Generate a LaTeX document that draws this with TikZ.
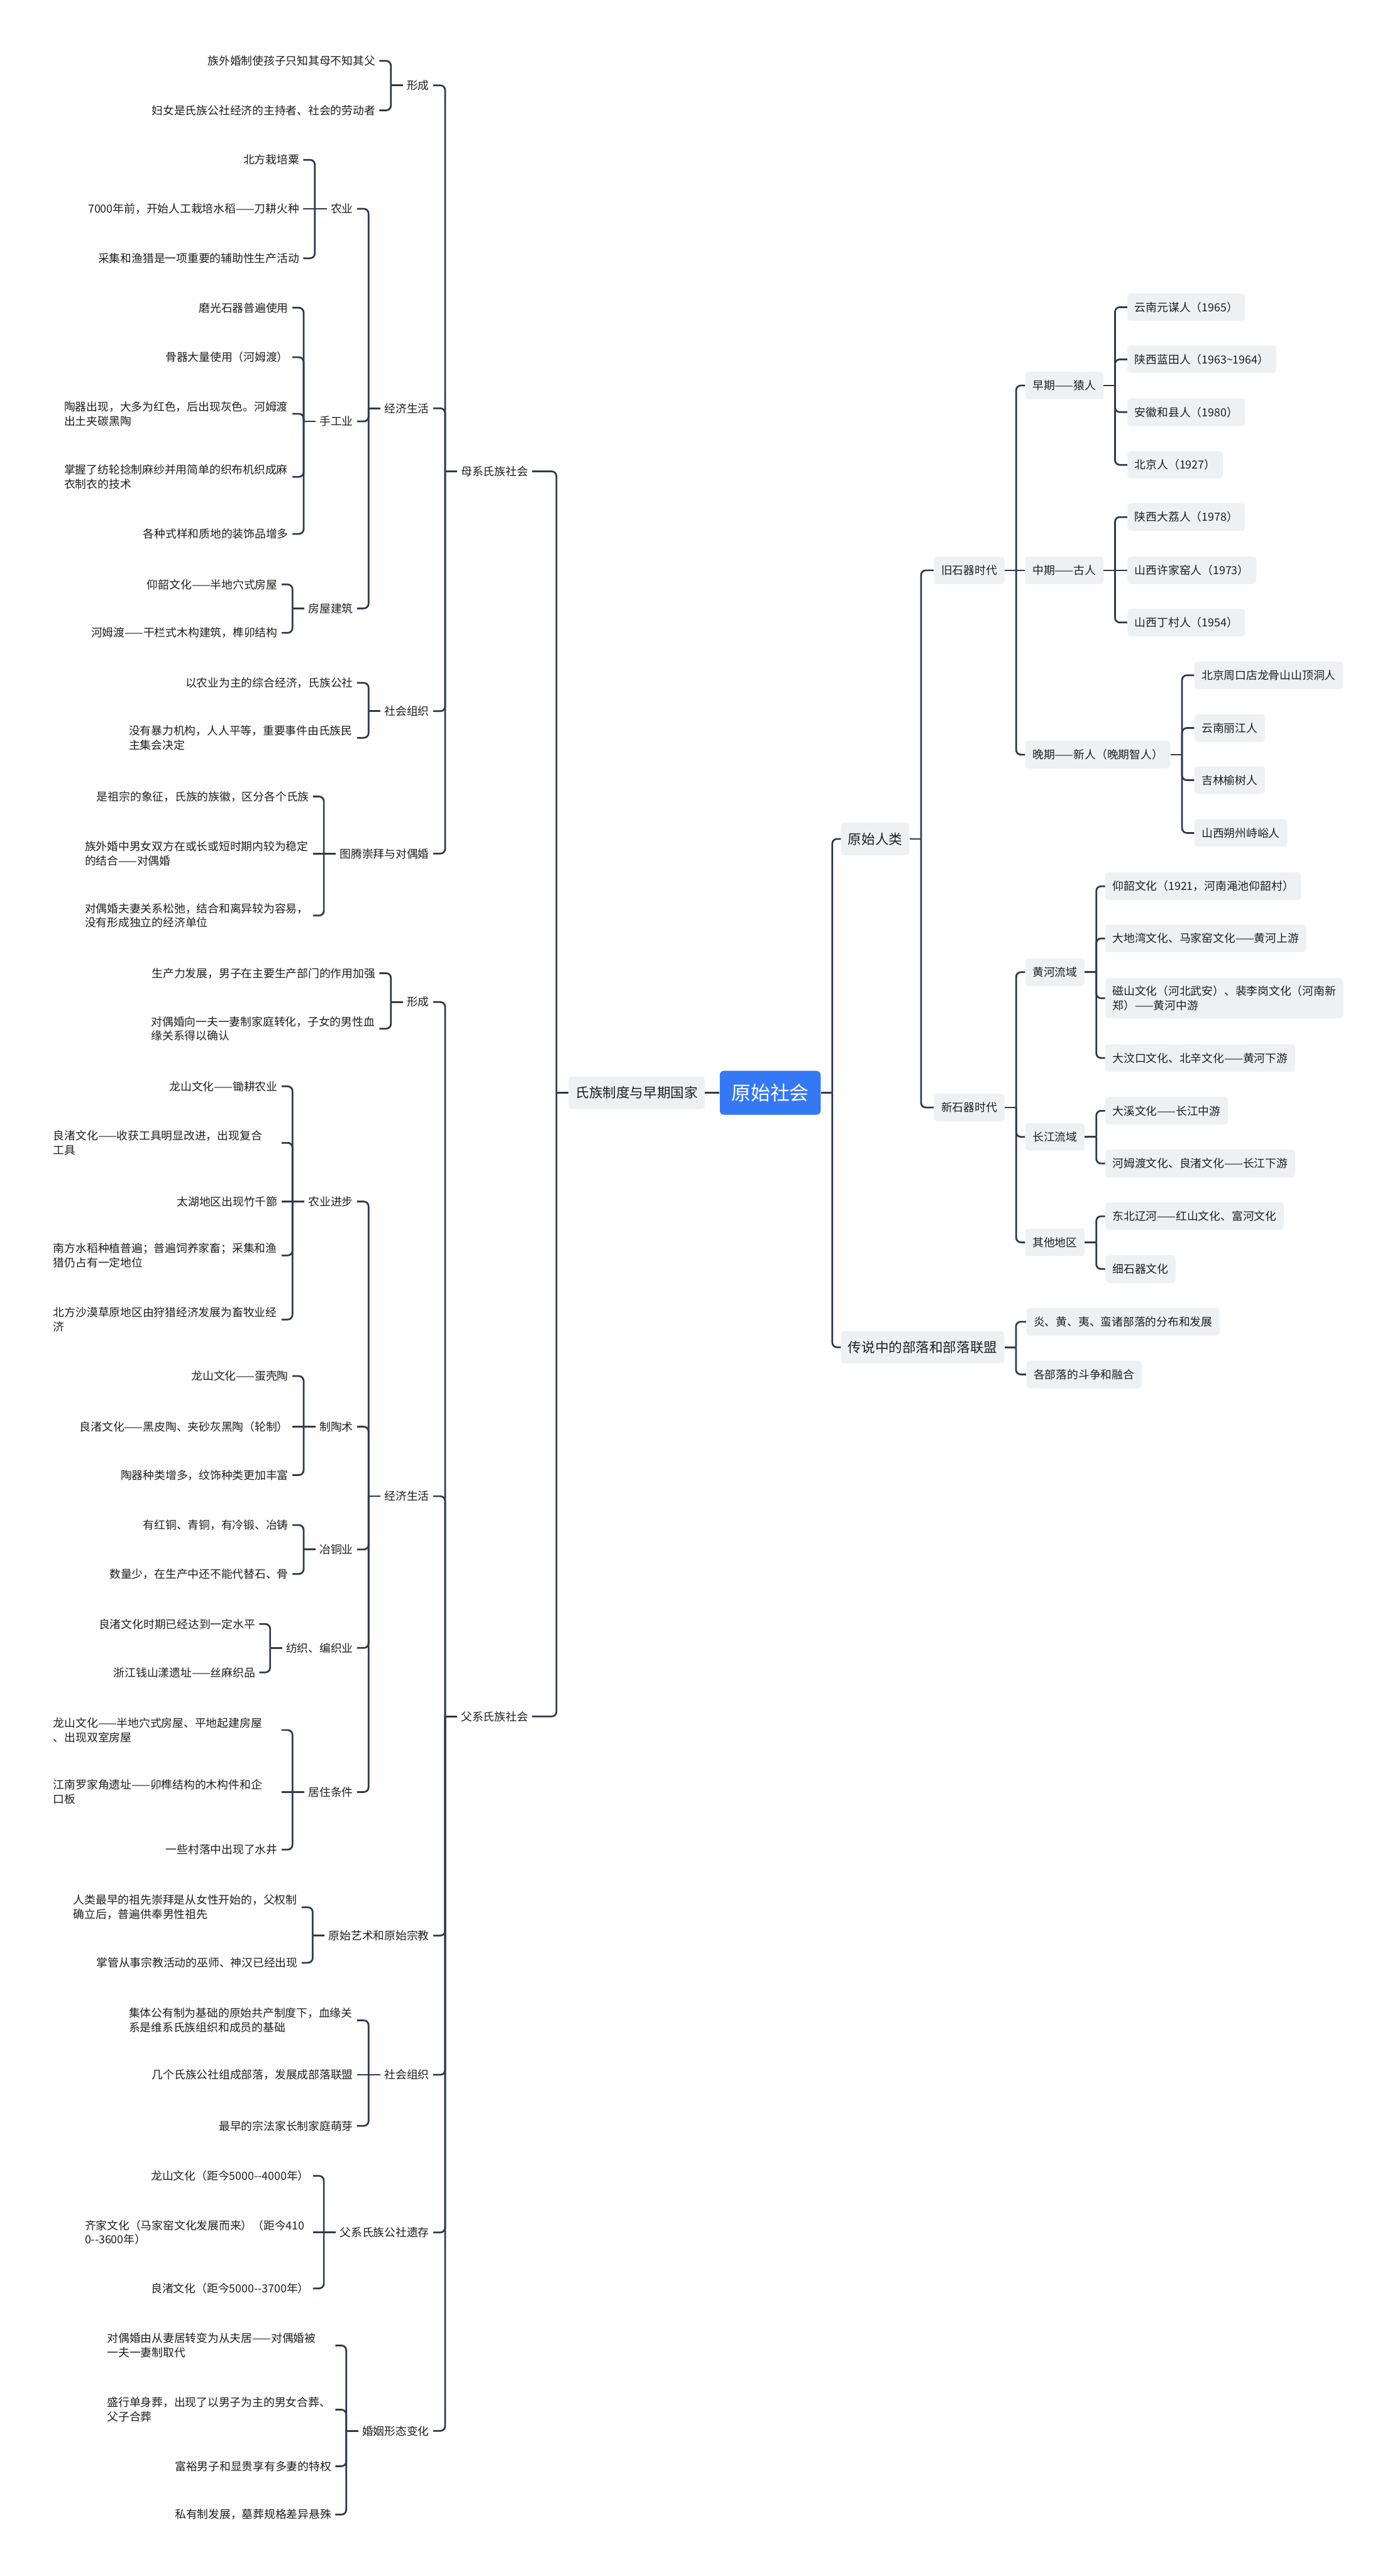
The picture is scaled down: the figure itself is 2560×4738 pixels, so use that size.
\documentclass[tikz,border=0pt]{standalone}
\usepackage{fontspec}
\setmainfont{Noto Sans CJK SC}
\definecolor{linecol}{HTML}{2D3A4C}
\definecolor{boxgray}{HTML}{EEF1F4}
\definecolor{rootblue}{HTML}{3478F6}
\definecolor{textcol}{HTML}{1E1E1E}
\newcommand{\leaffont}{\fontsize{11.7}{15}\selectfont}
\newcommand{\lvlfont}{\fontsize{14.2}{17}\selectfont}
\newcommand{\rootfont}{\fontsize{20.3}{24}\selectfont}
\tikzset{
  link/.style={draw=linecol, line width=1.8pt, rounded corners=5pt},
  leaf/.style={font=\leaffont, text=textcol, inner xsep=0.14cm, inner ysep=0.08cm, align=left},
  wrap/.style={leaf, text width=8.25cm},
  topic/.style={fill=boxgray, rounded corners=0.12cm, font=\leaffont, text=textcol, inner xsep=0.27cm, inner ysep=8pt, minimum height=1.02cm, align=left},
  main/.style={topic, font=\lvlfont, inner xsep=0.26cm, minimum height=1.2cm},
  rootbox/.style={fill=rootblue, rounded corners=0.16cm, font=\rootfont, text=white, inner xsep=0.43cm, minimum height=1.62cm}
}
\begin{document}
\begin{tikzpicture}[x=0.02cm,y=-0.02cm]
  \fill[white] (0,0) rectangle (2560,4738);
  \useasboundingbox (0,0) rectangle (2560,4738);

  \node[rootbox] (root) at (1417,2010) {原始社会};
  \node[main, anchor=east] (clan) at (1297,2010) {氏族制度与早期国家};
  \node[leaf, anchor=east] (matri) at (979,867) {母系氏族社会};
  \node[leaf, anchor=east] (patri) at (979,3157) {父系氏族社会};

  \node[leaf, anchor=east] (mform) at (797,157) {形成};
  \node[leaf, anchor=east] (mform1) at (698,112) {族外婚制使孩子只知其母不知其父};
  \node[leaf, anchor=east] (mform2) at (698,203) {妇女是氏族公社经济的主持者、社会的劳动者};
  \node[leaf, anchor=east] (mecon) at (797,751) {经济生活};
  \node[leaf, anchor=east] (magri) at (657,384) {农业};
  \node[leaf, anchor=east] (magri1) at (558,294) {北方栽培粟};
  \node[leaf, anchor=east] (magri2) at (558,384) {7000年前，开始人工栽培水稻——刀耕火种};
  \node[leaf, anchor=east] (magri3) at (558,475) {采集和渔猎是一项重要的辅助性生产活动};
  \node[leaf, anchor=east] (mcraft) at (657,775) {手工业};
  \node[leaf, anchor=east] (mcraft1) at (538,566) {磨光石器普遍使用};
  \node[leaf, anchor=east] (mcraft2) at (538,657) {骨器大量使用（河姆渡）};
  \node[wrap, anchor=east] (mcraft3) at (538,761) {陶器出现，大多为红色，后出现灰色。河姆渡\\出土夹碳黑陶};
  \node[wrap, anchor=east] (mcraft4) at (538,877) {掌握了纺轮捻制麻纱并用简单的织布机织成麻\\衣制衣的技术};
  \node[leaf, anchor=east] (mcraft5) at (538,982) {各种式样和质地的装饰品增多};
  \node[leaf, anchor=east] (mhouse) at (657,1119) {房屋建筑};
  \node[leaf, anchor=east] (mhouse1) at (518,1075) {仰韶文化——半地穴式房屋};
  \node[leaf, anchor=east] (mhouse2) at (518,1164) {河姆渡——干栏式木构建筑，榫卯结构};
  \node[leaf, anchor=east] (msoc) at (797,1308) {社会组织};
  \node[leaf, anchor=east] (msoc1) at (657,1256) {以农业为主的综合经济，氏族公社};
  \node[wrap, anchor=east] (msoc2) at (657,1357) {没有暴力机构，人人平等，重要事件由氏族民\\主集会决定};
  \node[leaf, anchor=east] (mtotem) at (797,1570) {图腾崇拜与对偶婚};
  \node[leaf, anchor=east] (mtotem1) at (576,1465) {是祖宗的象征，氏族的族徽，区分各个氏族};
  \node[wrap, anchor=east] (mtotem2) at (576,1570) {族外婚中男女双方在或长或短时期内较为稳定\\的结合——对偶婚};
  \node[wrap, anchor=east] (mtotem3) at (576,1684) {对偶婚夫妻关系松弛，结合和离异较为容易，\\没有形成独立的经济单位};

  \node[leaf, anchor=east] (pform) at (797,1843) {形成};
  \node[leaf, anchor=east] (pform1) at (698,1790) {生产力发展，男子在主要生产部门的作用加强};
  \node[wrap, anchor=east] (pform2) at (698,1892) {对偶婚向一夫一妻制家庭转化，子女的男性血\\缘关系得以确认};
  \node[leaf, anchor=east] (pecon) at (797,2752) {经济生活};
  \node[leaf, anchor=east] (pagri) at (657,2210) {农业进步};
  \node[leaf, anchor=east] (pagri1) at (518,1998) {龙山文化——锄耕农业};
  \node[wrap, anchor=east] (pagri2) at (518,2102) {良渚文化——收获工具明显改进，出现复合\\工具};
  \node[leaf, anchor=east] (pagri3) at (518,2210) {太湖地区出现竹千篰};
  \node[wrap, anchor=east] (pagri4) at (518,2309) {南方水稻种植普遍；普遍饲养家畜；采集和渔\\猎仍占有一定地位};
  \node[wrap, anchor=east] (pagri5) at (518,2427) {北方沙漠草原地区由狩猎经济发展为畜牧业经\\济};
  \node[leaf, anchor=east] (pcera) at (657,2624) {制陶术};
  \node[leaf, anchor=east] (pcera1) at (538,2531) {龙山文化——蛋壳陶};
  \node[leaf, anchor=east] (pcera2) at (538,2624) {良渚文化——黑皮陶、夹砂灰黑陶（轮制）};
  \node[leaf, anchor=east] (pcera3) at (538,2713) {陶器种类增多，纹饰种类更加丰富};
  \node[leaf, anchor=east] (pcopper) at (657,2850) {冶铜业};
  \node[leaf, anchor=east] (pcopper1) at (538,2805) {有红铜、青铜，有冷锻、冶铸};
  \node[leaf, anchor=east] (pcopper2) at (538,2895) {数量少，在生产中还不能代替石、骨};
  \node[leaf, anchor=east] (pweave) at (657,3031) {纺织、编织业};
  \node[leaf, anchor=east] (pweave1) at (477,2987) {良渚文化时期已经达到一定水平};
  \node[leaf, anchor=east] (pweave2) at (477,3076) {浙江钱山漾遗址——丝麻织品};
  \node[leaf, anchor=east] (phouse) at (657,3296) {居住条件};
  \node[wrap, anchor=east] (phouse1) at (518,3182) {龙山文化——半地穴式房屋、平地起建房屋\\、出现双室房屋};
  \node[wrap, anchor=east] (phouse2) at (518,3296) {江南罗家角遗址——卯榫结构的木构件和企\\口板};
  \node[leaf, anchor=east] (phouse3) at (518,3402) {一些村落中出现了水井};
  \node[leaf, anchor=east] (part) at (797,3560) {原始艺术和原始宗教};
  \node[wrap, anchor=east] (part1) at (555,3508) {人类最早的祖先崇拜是从女性开始的，父权制\\确立后，普遍供奉男性祖先};
  \node[leaf, anchor=east] (part2) at (555,3610) {掌管从事宗教活动的巫师、神汉已经出现};
  \node[leaf, anchor=east] (psoc) at (797,3816) {社会组织};
  \node[wrap, anchor=east] (psoc1) at (657,3716) {集体公有制为基础的原始共产制度下，血缘关\\系是维系氏族组织和成员的基础};
  \node[leaf, anchor=east] (psoc2) at (657,3816) {几个氏族公社组成部落，发展成部落联盟};
  \node[leaf, anchor=east] (psoc3) at (657,3910) {最早的宗法家长制家庭萌芽};
  \node[leaf, anchor=east] (prem) at (797,4106) {父系氏族公社遗存};
  \node[leaf, anchor=east] (prem1) at (576,4002) {龙山文化（距今5000-{}-4000年）};
  \node[wrap, anchor=east] (prem2) at (576,4106) {齐家文化（马家窑文化发展而来）（距今410\\0-{}-3600年）};
  \node[leaf, anchor=east] (prem3) at (576,4209) {良渚文化（距今5000-{}-3700年）};
  \node[leaf, anchor=east] (pmarr) at (797,4471) {婚姻形态变化};
  \node[wrap, anchor=east] (pmarr1) at (617,4314) {对偶婚由从妻居转变为从夫居——对偶婚被\\一夫一妻制取代};
  \node[wrap, anchor=east] (pmarr2) at (617,4432) {盛行单身葬，出现了以男子为主的男女合葬、\\父子合葬};
  \node[leaf, anchor=east] (pmarr3) at (617,4536) {富裕男子和显贵享有多妻的特权};
  \node[leaf, anchor=east] (pmarr4) at (617,4625) {私有制发展，墓葬规格差异悬殊};

  \node[main, anchor=west] (human) at (1547,1543) {原始人类};
  \node[topic, anchor=west] (old) at (1718,1049) {旧石器时代};
  \node[topic, anchor=west] (early) at (1886,709) {早期——猿人};
  \node[topic, anchor=west] (early1) at (2074,565) {云南元谋人（1965）};
  \node[topic, anchor=west] (early2) at (2074,661) {陕西蓝田人（1963\textasciitilde1964）};
  \node[topic, anchor=west] (early3) at (2074,758) {安徽和县人（1980）};
  \node[topic, anchor=west] (early4) at (2074,855) {北京人（1927）};
  \node[topic, anchor=west] (middle) at (1886,1049) {中期——古人};
  \node[topic, anchor=west] (mid1) at (2074,951) {陕西大荔人（1978）};
  \node[topic, anchor=west] (mid2) at (2074,1049) {山西许家窑人（1973）};
  \node[topic, anchor=west] (mid3) at (2074,1145) {山西丁村人（1954）};
  \node[topic, anchor=west] (late) at (1886,1388) {晚期——新人（晚期智人）};
  \node[topic, anchor=west] (late1) at (2197,1242) {北京周口店龙骨山山顶洞人};
  \node[topic, anchor=west] (late2) at (2197,1339) {云南丽江人};
  \node[topic, anchor=west] (late3) at (2197,1435) {吉林榆树人};
  \node[topic, anchor=west] (late4) at (2197,1532) {山西朔州峙峪人};
  \node[topic, anchor=west] (neo) at (1718,2037) {新石器时代};
  \node[topic, anchor=west] (yellow) at (1886,1788) {黄河流域};
  \node[topic, anchor=west] (yel1) at (2033,1630) {仰韶文化（1921，河南渑池仰韶村）};
  \node[topic, anchor=west] (yel2) at (2033,1726) {大地湾文化、马家窑文化——黄河上游};
  \node[topic, anchor=west] (yel3) at (2033,1836) {磁山文化（河北武安）、裴李岗文化（河南新\\郑）——黄河中游};
  \node[topic, anchor=west] (yel4) at (2033,1946) {大汶口文化、北辛文化——黄河下游};
  \node[topic, anchor=west] (yangtze) at (1886,2091) {长江流域};
  \node[topic, anchor=west] (yan1) at (2033,2043) {大溪文化——长江中游};
  \node[topic, anchor=west] (yan2) at (2033,2140) {河姆渡文化、良渚文化——长江下游};
  \node[topic, anchor=west] (other) at (1886,2285) {其他地区};
  \node[topic, anchor=west] (oth1) at (2033,2237) {东北辽河——红山文化、富河文化};
  \node[topic, anchor=west] (oth2) at (2033,2334) {细石器文化};
  \node[main, anchor=west] (legend) at (1547,2478) {传说中的部落和部落联盟};
  \node[topic, anchor=west] (leg1) at (1888,2431) {炎、黄、夷、蛮诸部落的分布和发展};
  \node[topic, anchor=west] (leg2) at (1888,2528) {各部落的斗争和融合};

  \draw[link] (root.west) -- (clan.east);
  \draw[link] (clan.west) -- ++(-22,0) coordinate (clanj);
  \foreach \ch in {matri,patri} \draw[link] (clanj) |- (\ch.east);
  \draw[link] (matri.west) -- ++(-22,0) coordinate (matrij);
  \foreach \ch in {mform,mecon,msoc,mtotem} \draw[link] (matrij) |- (\ch.east);
  \draw[link] (patri.west) -- ++(-22,0) coordinate (patrij);
  \foreach \ch in {pform,pecon,part,psoc,prem,pmarr} \draw[link] (patrij) |- (\ch.east);

  \draw[link] (mform.west) -- ++(-22,0) coordinate (mformj);
  \foreach \ch in {mform1,mform2} \draw[link] (mformj) |- (\ch.east);
  \draw[link] (mecon.west) -- ++(-22,0) coordinate (meconj);
  \foreach \ch in {magri,mcraft,mhouse} \draw[link] (meconj) |- (\ch.east);
  \draw[link] (magri.west) -- ++(-22,0) coordinate (magrij);
  \foreach \ch in {magri1,magri3} \draw[link] (magrij) |- (\ch.east);
  \draw[link] (magrij) -- (magri2.east);
  \draw[link] (mcraft.west) -- ++(-22,0) coordinate (mcraftj);
  \foreach \ch in {mcraft1,mcraft2,mcraft3,mcraft4,mcraft5} \draw[link] (mcraftj) |- (\ch.east);
  \draw[link] (mhouse.west) -- ++(-22,0) coordinate (mhousej);
  \foreach \ch in {mhouse1,mhouse2} \draw[link] (mhousej) |- (\ch.east);
  \draw[link] (msoc.west) -- ++(-22,0) coordinate (msocj);
  \foreach \ch in {msoc1,msoc2} \draw[link] (msocj) |- (\ch.east);
  \draw[link] (mtotem.west) -- ++(-22,0) coordinate (mtotemj);
  \foreach \ch in {mtotem1,mtotem3} \draw[link] (mtotemj) |- (\ch.east);
  \draw[link] (mtotemj) -- (mtotem2.east);

  \draw[link] (pform.west) -- ++(-22,0) coordinate (pformj);
  \foreach \ch in {pform1,pform2} \draw[link] (pformj) |- (\ch.east);
  \draw[link] (pecon.west) -- ++(-22,0) coordinate (peconj);
  \foreach \ch in {pagri,pcera,pcopper,pweave,phouse} \draw[link] (peconj) |- (\ch.east);
  \draw[link] (pagri.west) -- ++(-22,0) coordinate (pagrij);
  \foreach \ch in {pagri1,pagri2,pagri4,pagri5} \draw[link] (pagrij) |- (\ch.east);
  \draw[link] (pagrij) -- (pagri3.east);
  \draw[link] (pcera.west) -- ++(-22,0) coordinate (pceraj);
  \foreach \ch in {pcera1,pcera3} \draw[link] (pceraj) |- (\ch.east);
  \draw[link] (pceraj) -- (pcera2.east);
  \draw[link] (pcopper.west) -- ++(-22,0) coordinate (pcopperj);
  \foreach \ch in {pcopper1,pcopper2} \draw[link] (pcopperj) |- (\ch.east);
  \draw[link] (pweave.west) -- ++(-22,0) coordinate (pweavej);
  \foreach \ch in {pweave1,pweave2} \draw[link] (pweavej) |- (\ch.east);
  \draw[link] (phouse.west) -- ++(-22,0) coordinate (phousej);
  \foreach \ch in {phouse1,phouse3} \draw[link] (phousej) |- (\ch.east);
  \draw[link] (phousej) -- (phouse2.east);
  \draw[link] (part.west) -- ++(-22,0) coordinate (partj);
  \foreach \ch in {part1,part2} \draw[link] (partj) |- (\ch.east);
  \draw[link] (psoc.west) -- ++(-22,0) coordinate (psocj);
  \foreach \ch in {psoc1,psoc3} \draw[link] (psocj) |- (\ch.east);
  \draw[link] (psocj) -- (psoc2.east);
  \draw[link] (prem.west) -- ++(-22,0) coordinate (premj);
  \foreach \ch in {prem1,prem3} \draw[link] (premj) |- (\ch.east);
  \draw[link] (premj) -- (prem2.east);
  \draw[link] (pmarr.west) -- ++(-22,0) coordinate (pmarrj);
  \foreach \ch in {pmarr1,pmarr2,pmarr3,pmarr4} \draw[link] (pmarrj) |- (\ch.east);

  \draw[link] (root.east) -- ++(21,0) coordinate (rootj);
  \foreach \ch in {human,legend} \draw[link] (rootj) |- (\ch.west);
  \draw[link] (human.east) -- ++(21,0) coordinate (humanj);
  \foreach \ch in {old,neo} \draw[link] (humanj) |- (\ch.west);
  \draw[link] (old.east) -- ++(21,0) coordinate (oldj);
  \foreach \ch in {early,late} \draw[link] (oldj) |- (\ch.west);
  \draw[link] (oldj) -- (middle.west);
  \draw[link] (early.east) -- ++(21,0) coordinate (earlyj);
  \foreach \ch in {early1,early2,early3,early4} \draw[link] (earlyj) |- (\ch.west);
  \draw[link] (middle.east) -- ++(21,0) coordinate (middlej);
  \foreach \ch in {mid1,mid3} \draw[link] (middlej) |- (\ch.west);
  \draw[link] (middlej) -- (mid2.west);
  \draw[link] (late.east) -- ++(21,0) coordinate (latej);
  \foreach \ch in {late1,late2,late3,late4} \draw[link] (latej) |- (\ch.west);
  \draw[link] (neo.east) -- ++(21,0) coordinate (neoj);
  \foreach \ch in {yellow,yangtze,other} \draw[link] (neoj) |- (\ch.west);
  \draw[link] (yellow.east) -- ++(21,0) coordinate (yellowj);
  \foreach \ch in {yel1,yel2,yel3,yel4} \draw[link] (yellowj) |- (\ch.west);
  \draw[link] (yangtze.east) -- ++(21,0) coordinate (yangtzej);
  \foreach \ch in {yan1,yan2} \draw[link] (yangtzej) |- (\ch.west);
  \draw[link] (other.east) -- ++(21,0) coordinate (otherj);
  \foreach \ch in {oth1,oth2} \draw[link] (otherj) |- (\ch.west);
  \draw[link] (legend.east) -- ++(21,0) coordinate (legendj);
  \foreach \ch in {leg1,leg2} \draw[link] (legendj) |- (\ch.west);
\end{tikzpicture}
\end{document}
